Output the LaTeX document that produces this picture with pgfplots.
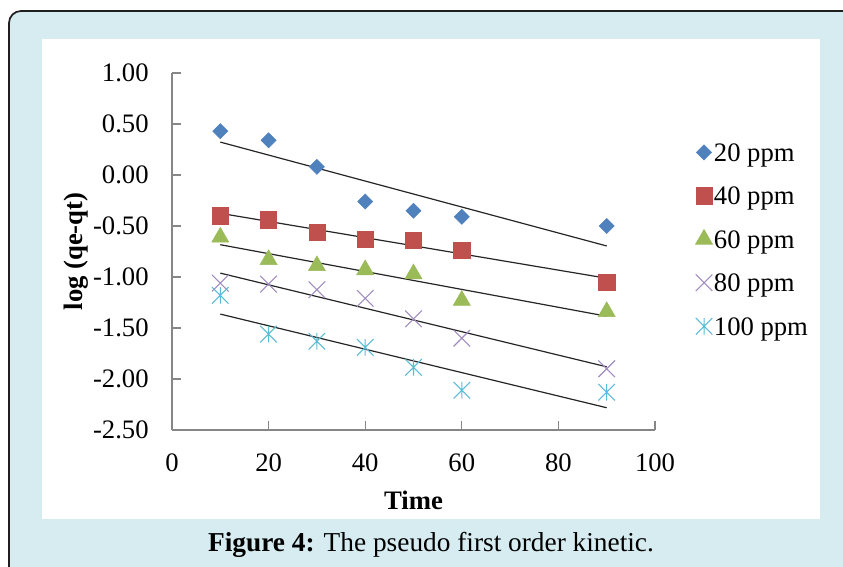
\documentclass[border=0pt]{standalone}
\usepackage{fontspec}
\setmainfont{Liberation Serif}
\newfontfamily\capfont{Liberation Serif}
\usepackage{pgfplots}
\pgfplotsset{compat=1.18}
\usepackage{pgfplotstable}

\definecolor{framebg}{HTML}{D7ECF1}
\definecolor{framedark}{HTML}{1E1E1E}
\definecolor{axgray}{HTML}{868686}
\definecolor{cblue}{HTML}{4F81BD}
\definecolor{cred}{HTML}{C0504D}
\definecolor{cgreen}{HTML}{9BBB59}
\definecolor{cpurple}{HTML}{A08CC0}
\definecolor{ccyan}{HTML}{5BBCD6}

\pgfdeclareplotmark{xstar}{%
  \pgfpathmoveto{\pgfqpoint{0pt}{-\pgfplotmarksize}}%
  \pgfpathlineto{\pgfqpoint{0pt}{\pgfplotmarksize}}%
  \pgfpathmoveto{\pgfqpoint{-\pgfplotmarksize}{-\pgfplotmarksize}}%
  \pgfpathlineto{\pgfqpoint{\pgfplotmarksize}{\pgfplotmarksize}}%
  \pgfpathmoveto{\pgfqpoint{-\pgfplotmarksize}{\pgfplotmarksize}}%
  \pgfpathlineto{\pgfqpoint{\pgfplotmarksize}{-\pgfplotmarksize}}%
  \pgfusepathqstroke}

\pgfplotstableread{
x   y20   y40    y60    y80     y100
10  0.43  -0.40  -0.61  -1.06   -1.18
20  0.34  -0.44  -0.83  -1.07   -1.56
30  0.08  -0.56  -0.89  -1.125  -1.63
40  -0.26 -0.63  -0.93  -1.21   -1.69
50  -0.35 -0.64  -0.97  -1.41   -1.885
60  -0.41 -0.74  -1.23  -1.60   -2.11
90  -0.50 -1.05  -1.34  -1.90   -2.13
}\kinetic

\begin{document}
\begin{tikzpicture}[x=0.75pt,y=0.75pt]
\useasboundingbox (0,0) rectangle (843,567);
\begin{scope}
\clip (0,0) rectangle (843,567);
\filldraw[fill=framebg, draw=framedark, line width=1.3pt, rounded corners=9pt] (9,556) rectangle (880,-40);
\end{scope}
\fill[white] (42,48) rectangle (820,528);
\node[font=\fontsize{20.5}{24}\selectfont\capfont] at (431,22) {\textbf{Figure 4:} The pseudo first order kinetic.};

\begin{axis}[
  at={(129pt,102.75pt)}, anchor=south west,
  scale only axis, width=362.25pt, height=267.75pt,
  xmin=0, xmax=100, ymin=-2.5, ymax=1,
  xtick={0,20,...,100}, ytick={-2.5,-2,...,1},
  axis lines*=left,
  axis line style={axgray, line width=0.8pt},
  tick style={axgray, line width=0.8pt},
  tick align=inside, major tick length=6.5pt,
  tick label style={font=\fontsize{20}{24}\selectfont},
  /pgf/number format/assume math mode=true,
  yticklabel style={/pgf/number format/.cd, fixed, fixed zerofill, precision=2, /tikz/.cd, xshift=-14pt},
  xticklabel style={yshift=-14pt},
  xlabel={\textbf{Time}}, ylabel={\textbf{log (qe-qt)}},
  label style={font=\fontsize{20}{24}\selectfont},
  xlabel style={yshift=-8pt},
  ylabel style={yshift=-3pt},
  clip=false,
  legend style={draw=none, fill=none, at={(1.075,0.815)}, anchor=north west,
    font=\fontsize{20}{24}\selectfont, row sep=17pt,
    nodes={inner sep=1pt, text height=13.6pt, text depth=0pt}},
  legend cell align=left,
  legend image code/.code={\draw[mark repeat=2,mark phase=2,#1] plot coordinates {(-4pt,0pt) (0pt,0pt) (4pt,0pt)};},
]
\addplot[only marks, mark=square*, mark options={rotate=45, fill=cblue, draw=cblue}, mark size=4pt] table[x=x,y=y20] {\kinetic};
\addlegendentry{20 ppm}
\addplot[only marks, mark=square*, mark options={fill=cred, draw=cred}, mark size=6.1pt] table[x=x,y=y40] {\kinetic};
\addlegendentry{40 ppm}
\addplot[only marks, mark=triangle*, mark options={fill=cgreen, draw=cgreen}, mark size=7.4pt] table[x=x,y=y60] {\kinetic};
\addlegendentry{60 ppm}
\addplot[only marks, mark=x, mark options={draw=cpurple, line width=0.8pt}, mark size=8.8pt] table[x=x,y=y80] {\kinetic};
\addlegendentry{80 ppm}
\addplot[only marks, mark=xstar, mark options={draw=ccyan, line width=0.8pt}, mark size=6.2pt] table[x=x,y=y100] {\kinetic};
\addlegendentry{100 ppm}

\addplot[forget plot, black!85, line width=0.9pt, no marks] table[x=x, y={create col/linear regression={y=y20}}] {\kinetic};
\addplot[forget plot, black!85, line width=0.9pt, no marks] table[x=x, y={create col/linear regression={y=y40}}] {\kinetic};
\addplot[forget plot, black!85, line width=0.9pt, no marks] table[x=x, y={create col/linear regression={y=y60}}] {\kinetic};
\addplot[forget plot, black!85, line width=0.9pt, no marks] table[x=x, y={create col/linear regression={y=y80}}] {\kinetic};
\addplot[forget plot, black!85, line width=0.9pt, no marks] table[x=x, y={create col/linear regression={y=y100}}] {\kinetic};
\end{axis}
\end{tikzpicture}
\end{document}
